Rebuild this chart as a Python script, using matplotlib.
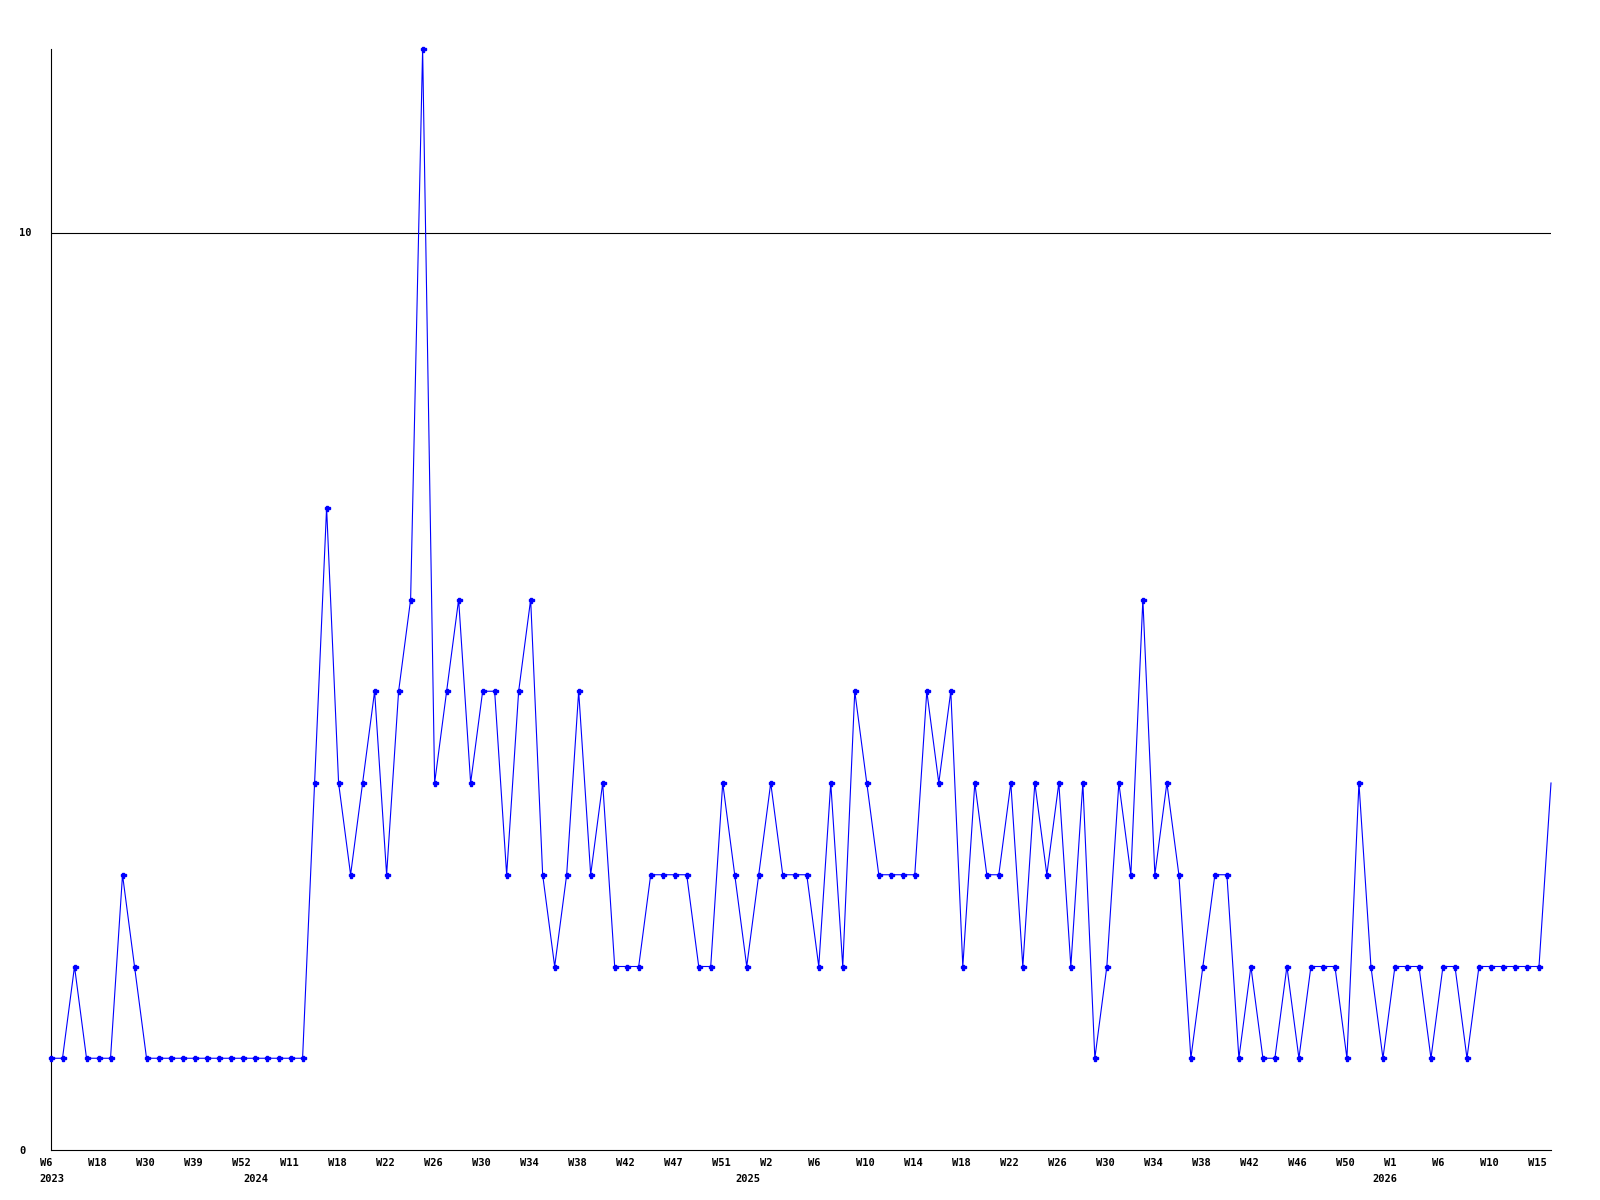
import matplotlib
matplotlib.use("Agg")
import matplotlib.pyplot as plt
from matplotlib.transforms import ScaledTranslation

values = [1, 1, 2, 1, 1, 1, 3, 2, 1, 1,
          1, 1, 1, 1, 1, 1, 1, 1, 1, 1,
          1, 1, 4, 7, 4, 3, 4, 5, 3, 5,
          6, 12, 4, 5, 6, 4, 5, 5, 3, 5,
          6, 3, 2, 3, 5, 3, 4, 2, 2, 2,
          3, 3, 3, 3, 2, 2, 4, 3, 2, 3,
          4, 3, 3, 3, 2, 4, 2, 5, 4, 3,
          3, 3, 3, 5, 4, 5, 2, 4, 3, 3,
          4, 2, 4, 3, 4, 2, 4, 1, 2, 4,
          3, 6, 3, 4, 3, 1, 2, 3, 3, 1,
          2, 1, 1, 2, 1, 2, 2, 2, 1, 4,
          2, 1, 2, 2, 2, 1, 2, 2, 1, 2,
          2, 2, 2, 2, 2, 4]

week_labels = ["W6", "W18", "W30", "W39", "W52", "W11", "W18", "W22",
               "W26", "W30", "W34", "W38", "W42", "W47", "W51", "W2",
               "W6", "W10", "W14", "W18", "W22", "W26", "W30", "W34",
               "W38", "W42", "W46", "W50", "W1", "W6", "W10", "W15"]
label_step = 4

year_labels = ["2023", "2024", "2025", "2026"]
year_start_index = [0, 17, 58, 111]

ref_value = 10

fig = plt.figure(figsize=(16, 12), dpi=100)
ax = fig.add_axes([50.5 / 1600, 1 - 1150 / 1200, (1551 - 50.5) / 1600, (1150 - 49) / 1200])

x = list(range(len(values)))
ax.axhline(ref_value, color="black", lw=0.8, zorder=1)
ax.plot(x, values, color="#0000ff", lw=0.8, marker="P", markersize=3.6,
        markevery=list(range(len(values) - 1)), clip_on=False, zorder=3)

ax.set_xlim(0, len(values) - 1)
ax.set_ylim(0, 12)

for s in ["top", "right"]:
    ax.spines[s].set_visible(False)
for s in ["left", "bottom"]:
    ax.spines[s].set_color("black")
    ax.spines[s].set_linewidth(0.8)

font = dict(family="DejaVu Sans Mono", weight="bold", size=7.5)

ax.set_yticks([0, ref_value])
ax.set_yticklabels(["0", "10"], **font)
ax.tick_params(axis="y", length=0, pad=22.7)
for lab in ax.get_yticklabels():
    lab.set_horizontalalignment("left")

ax.xaxis.remove_overlapping_locs = False
ax.set_xticks(list(range(0, label_step * len(week_labels), label_step)))
ax.set_xticklabels(week_labels, **font)
ax.set_xticks(year_start_index, minor=True)
ax.set_xticklabels(year_labels, minor=True, **font)
ax.tick_params(axis="x", which="major", length=0, pad=6.0)
ax.tick_params(axis="x", which="minor", length=0, pad=17.0)

shift = ScaledTranslation(-11 / 100, 0, fig.dpi_scale_trans)
for lab in ax.get_xticklabels() + ax.get_xticklabels(minor=True):
    lab.set_horizontalalignment("left")
    lab.set_transform(lab.get_transform() + shift)

fig.savefig("out.png", dpi=100, facecolor="white")
